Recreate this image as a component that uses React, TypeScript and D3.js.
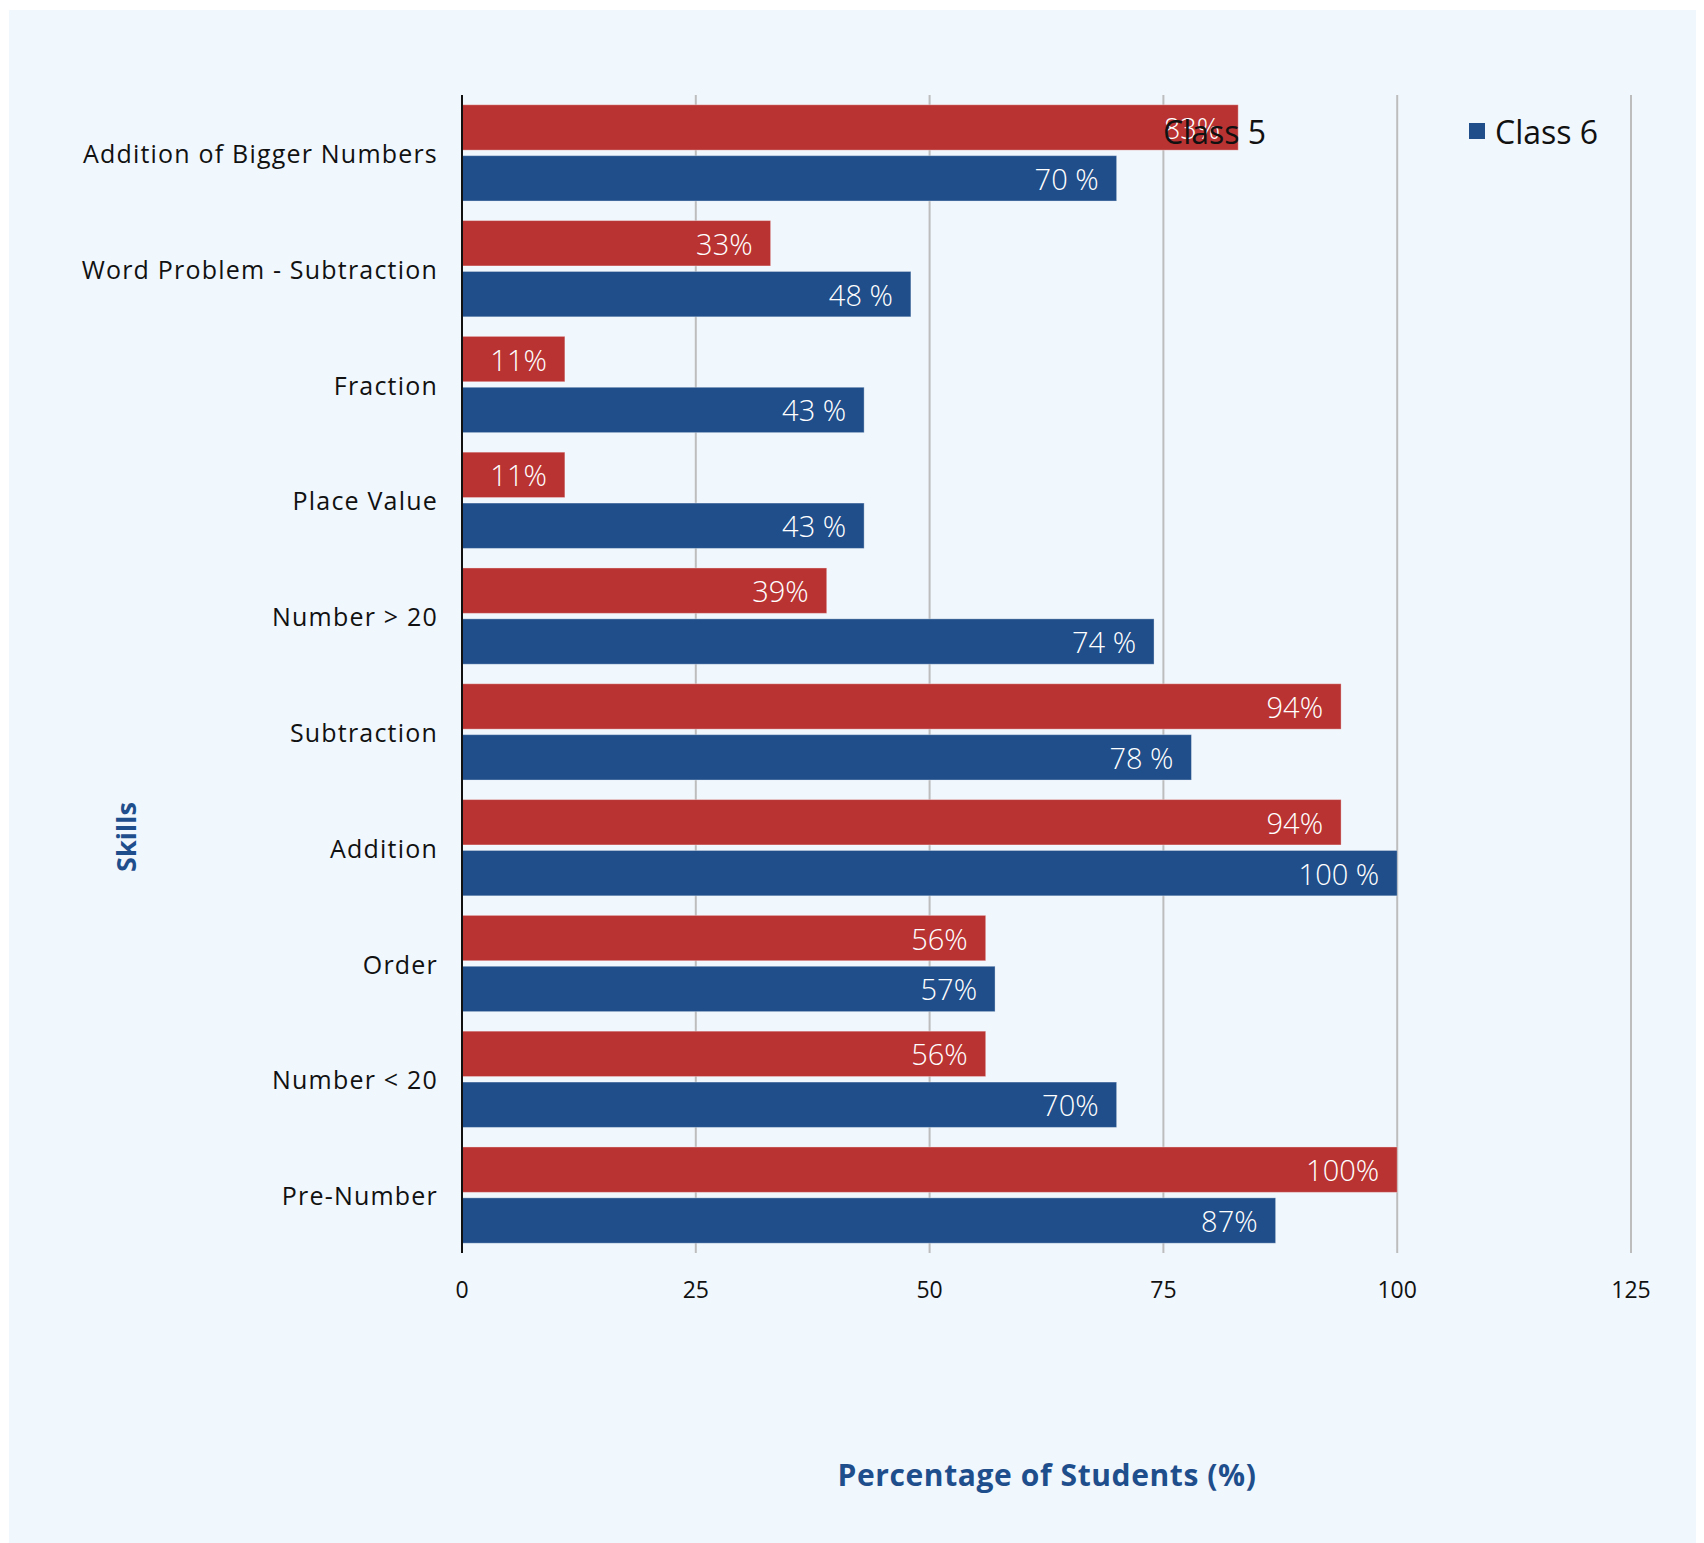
import React from "react";
import * as d3 from "d3";

const categories = [
  "Addition of Bigger Numbers",
  "Word Problem - Subtraction",
  "Fraction",
  "Place Value",
  "Number > 20",
  "Subtraction",
  "Addition",
  "Order",
  "Number < 20",
  "Pre-Number",
];
const class5Values = [83, 33, 11, 11, 39, 94, 94, 56, 56, 100];
const class6Values = [70, 48, 43, 43, 74, 78, 100, 57, 70, 87];
const class5Labels = ["83%", "33%", "11%", "11%", "39%", "94%", "94%", "56%", "56%", "100%"];
const class6Labels = ["70 %", "48 %", "43 %", "43 %", "74 %", "78 %", "100 %", "57%", "70%", "87%"];
const seriesNames = ["Class 5", "Class 6"];
const xTicks = [0, 25, 50, 75, 100, 125];

const W = 1696;
const H = 1535;
const FONT = "'Open Sans', 'DejaVu Sans', sans-serif";
const RED = "#B93333";
const BLUE = "#1F4E8A";
const TITLE_BLUE = "#1F4E8C";

export default function App() {
  // svg is at page (8,8); all coordinates below are page coords minus 8
  const ox = -8;
  const oy = -8;
  const x = d3.scaleLinear().domain([0, 125]).range([462 + ox, 1631 + ox]);
  const y = d3.scaleBand<string>().domain(categories).range([95 + oy, 1253 + oy]).paddingInner(0).paddingOuter(0);
  const inner = d3
    .scaleBand<string>()
    .domain(seriesNames)
    .range([0, y.step()])
    .paddingInner(0.108)
    .paddingOuter(0.192);

  const series = [
    { name: seriesNames[0], values: class5Values, labels: class5Labels, color: RED },
    { name: seriesNames[1], values: class6Values, labels: class6Labels, color: BLUE },
  ];

  const [r0, r1] = y.range();

  return (
    <svg width={W} height={H} style={{ display: "block" }} fontFamily={FONT}>
      <rect x={1} y={2} width={W} height={H} fill="#F0F7FD" />
      {/* gridlines */}
      {xTicks.slice(1).map((t) => (
        <line key={"g" + t} x1={x(t)} x2={x(t)} y1={r0} y2={r1} stroke="#BDBDBD" strokeWidth={2} />
      ))}
      {/* bars */}
      {series.map((s) =>
        categories.map((c, i) => {
          const by = (y(c) as number) + (inner(s.name) as number);
          const bh = inner.bandwidth();
          const x0 = x(0);
          const x1 = x(s.values[i]);
          return (
            <g key={s.name + c}>
              <rect x={x0} y={by} width={x1 - x0} height={bh} fill={s.color} stroke="rgba(255,255,255,0.35)" strokeWidth={1} />
              <text
                x={x1 - 18}
                y={by + bh / 2}
                textAnchor="end"
                dominantBaseline="central"
                fill="#FFFFFF"
                fontSize={29}
                fontWeight={300}
              >
                {s.labels[i]}
              </text>
            </g>
          );
        })
      )}
      {/* y axis line */}
      <line x1={x(0)} x2={x(0)} y1={r0} y2={r1} stroke="#111" strokeWidth={2} />
      {/* category labels */}
      {categories.map((c) => (
        <text
          key={"c" + c}
          x={438 + ox}
          y={(y(c) as number) + y.step() / 2}
          textAnchor="end"
          dominantBaseline="central"
          fontSize={25}
          letterSpacing={1.2}
          fill="#111"
        >
          {c}
        </text>
      ))}
      {/* x tick labels */}
      {xTicks.map((t) => (
        <text key={"t" + t} x={x(t)} y={1289 + oy} textAnchor="middle" dominantBaseline="central" fontSize={23} fill="#111">
          {t}
        </text>
      ))}
      {/* axis titles */}
      <text
        transform={`translate(${125 + ox},${837 + oy}) rotate(-90)`}
        textAnchor="middle"
        dominantBaseline="central"
        fontSize={27}
        fontWeight={700}
        fill={TITLE_BLUE}
      >
        Skills
      </text>
      <text
        x={1047 + ox}
        y={1474 + oy}
        textAnchor="middle"
        dominantBaseline="central"
        fontSize={30}
        letterSpacing={0.6}
        fontWeight={700}
        fill={TITLE_BLUE}
      >
        Percentage of Students (%)
      </text>
      {/* legend */}
      {series.map((s, i) => {
        const lx = 1137 + ox + i * 332;
        const ly = 131 + oy;
        return (
          <g key={"l" + s.name}>
            <rect x={lx} y={ly - 8} width={16} height={16} fill={s.color} />
            <text x={lx + 26} y={ly} dominantBaseline="central" fontSize={32} fill="#111">
              {s.name}
            </text>
          </g>
        );
      })}
    </svg>
  );
}
